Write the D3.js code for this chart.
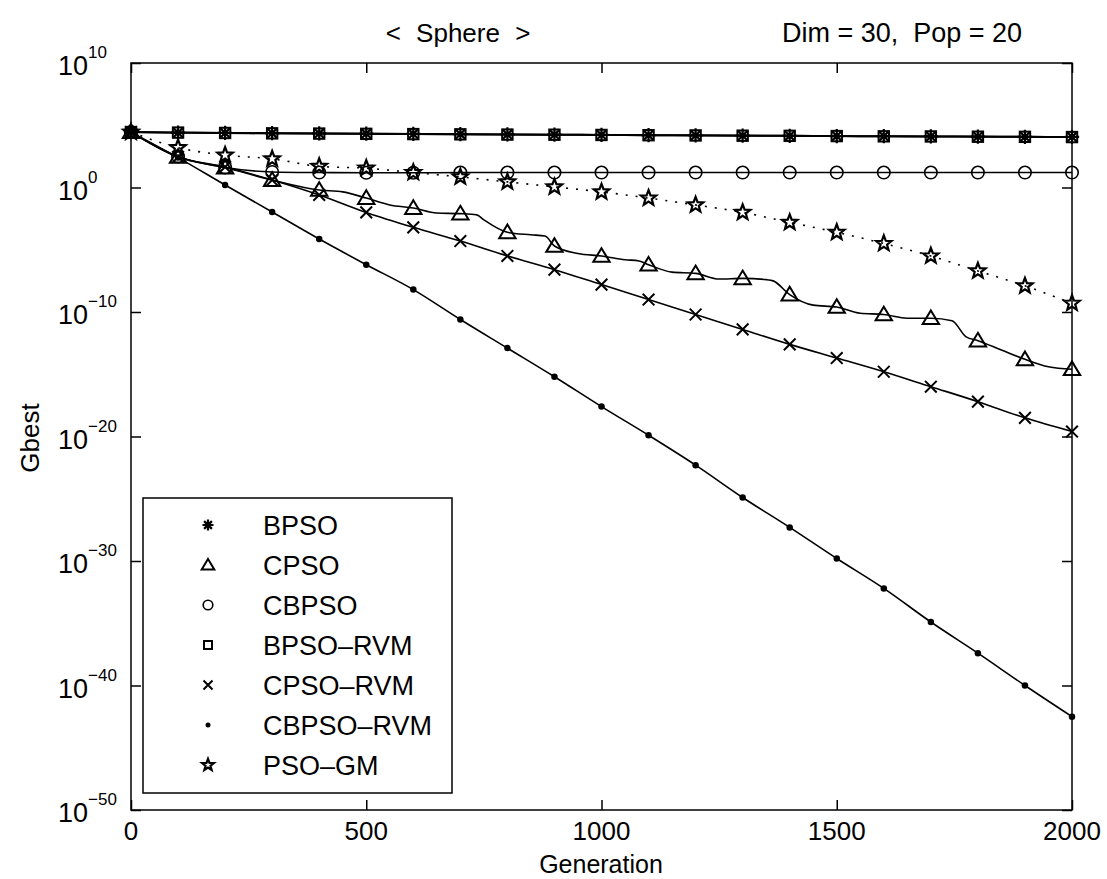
<!DOCTYPE html>
<html>
<head>
<meta charset="utf-8">
<script src="https://cdn.jsdelivr.net/npm/d3@7"></script>
<style>
  body { margin: 0; background: #fff; }
  text { font-family: "Liberation Sans", Arial, sans-serif; fill: #000; }
</style>
</head>
<body>
<svg id="chart" width="1107" height="879"></svg>
<script>
// generations where markers are drawn
var generations = [0,100,200,300,400,500,600,700,800,900,1000,1100,1200,1300,1400,1500,1600,1700,1800,1900,2000];

// log10(Gbest), one value per generation above
var bpso     = [4.45,4.40,4.38,4.36,4.34,4.32,4.30,4.28,4.26,4.24,4.22,4.20,4.19,4.17,4.15,4.13,4.12,4.10,4.09,4.07,4.06];
var cpso     = [4.45,2.45,1.6,0.6,-0.2,-0.85,-1.65,-2.1,-3.6,-4.7,-5.5,-6.2,-6.9,-7.3,-8.6,-9.6,-10.2,-10.5,-12.3,-13.8,-14.6];
var cbpso    = [4.45,2.5,1.6,1.25,1.2,1.18,1.18,1.2,1.2,1.2,1.2,1.2,1.2,1.2,1.2,1.2,1.2,1.2,1.2,1.2,1.2];
var bpsoRvm  = [4.45,4.41,4.38,4.35,4.33,4.31,4.29,4.27,4.25,4.24,4.22,4.20,4.18,4.16,4.15,4.13,4.11,4.10,4.08,4.07,4.05];
var cpsoRvm  = [4.45,2.45,1.65,0.6,-0.6,-2.0,-3.2,-4.3,-5.5,-6.6,-7.8,-9.0,-10.2,-11.4,-12.6,-13.7,-14.8,-16.0,-17.2,-18.5,-19.6];
var cbpsoRvm = [4.45,2.4,0.2,-1.97,-4.14,-6.2,-8.2,-10.6,-12.9,-15.2,-17.6,-19.9,-22.3,-24.9,-27.3,-29.8,-32.2,-34.9,-37.4,-40.0,-42.5];
var psoGm    = [4.45,3.2,2.6,2.3,1.7,1.55,1.2,0.85,0.45,0.05,-0.35,-0.85,-1.4,-2.0,-2.8,-3.6,-4.5,-5.5,-6.7,-7.9,-9.3];

// the CPSO curve is drawn from finer points (it has steps between markers)
var cpsoLineGen = [0,100,200,300,400,450,500,550,600,650,700,735,750,800,850,880,900,950,1000,1050,1080,1100,1150,1200,1250,1300,1350,1365,1400,1450,1500,1550,1600,1650,1700,1745,1775,1800,1850,1900,1950,2000];
var cpsoLineVal = [4.45,2.45,1.6,0.6,-0.2,-0.35,-0.85,-1.4,-1.65,-2.05,-2.1,-2.2,-2.6,-3.6,-3.8,-3.9,-4.7,-5.3,-5.5,-5.8,-5.9,-6.2,-6.8,-6.9,-7.35,-7.3,-7.4,-7.5,-8.6,-9.45,-9.6,-10.1,-10.2,-10.5,-10.5,-10.7,-12.0,-12.3,-13.05,-13.8,-14.4,-14.6];

var seriesNames = ["BPSO","CPSO","CBPSO","BPSO\u2013RVM","CPSO\u2013RVM","CBPSO\u2013RVM","PSO\u2013GM"];
var seriesMarks = ["asterisk","triangle","circle","square","cross","dot","star"];
var seriesVals  = [bpso, cpso, cbpso, bpsoRvm, cpsoRvm, cbpsoRvm, psoGm];

var yTickExp = [10,0,-10,-20,-30,-40,-50];
var xTicks = [0,500,1000,1500,2000];

var svg = d3.select("svg#chart");

var x = d3.scaleLinear().domain([0,2000]).range([131,1072]);
var y = d3.scaleLog().domain([1e-50,1e10]).range([810,63]);

function py(v) { return y(Math.pow(10, v)); }

// axes with inward ticks on all four sides
var yTickVals = yTickExp.map(function(e){ return Math.pow(10,e); });
svg.append("g").attr("transform","translate(131,0)")
   .call(d3.axisLeft(y).tickValues(yTickVals).tickSize(-10).tickSizeOuter(0).tickFormat(""));
svg.append("g").attr("transform","translate(1072,0)")
   .call(d3.axisRight(y).tickValues(yTickVals).tickSize(-10).tickSizeOuter(0).tickFormat(""));
svg.append("g").attr("transform","translate(0,810)")
   .call(d3.axisBottom(x).tickValues(xTicks).tickSize(-10).tickSizeOuter(0).tickFormat(""));
svg.append("g").attr("transform","translate(0,63)")
   .call(d3.axisTop(x).tickValues(xTicks).tickSize(-10).tickSizeOuter(0).tickFormat(""));
svg.selectAll(".tick line").attr("stroke","#000").attr("stroke-width",1.5);
svg.selectAll(".domain").remove();

svg.append("rect")
   .attr("x",131).attr("y",63).attr("width",1072-131).attr("height",810-63)
   .attr("fill","none").attr("stroke","#000").attr("stroke-width",1.5);

// y tick labels: 10 with superscript exponent
yTickExp.forEach(function(e) {
  var t = svg.append("text")
     .attr("x",58).attr("y",py(e)+12)
     .style("font-size","27px");
  t.append("tspan").text("10");
  t.append("tspan").attr("dy",-17).style("font-size","17px")
   .text(e < 0 ? "\u2212" + (-e) : String(e));
});

// x tick labels
svg.selectAll("text.xlab").data(xTicks).enter().append("text")
   .attr("class","xlab")
   .attr("x", function(d){ return x(d); })
   .attr("y", 840)
   .attr("text-anchor","middle")
   .style("font-size","26px")
   .text(function(d){ return d; });

svg.append("text").attr("x",601).attr("y",873).attr("text-anchor","middle")
   .style("font-size","25px").text("Generation");
svg.append("text").attr("transform","translate(39,438) rotate(-90)").attr("text-anchor","middle")
   .style("font-size","26px").text("Gbest");
svg.append("text").attr("x",458).attr("y",42).attr("text-anchor","middle")
   .style("font-size","26px").style("word-spacing","8px").text("< Sphere >");
svg.append("text").attr("x",782).attr("y",42).attr("xml:space","preserve")
   .style("font-size","27px").style("white-space","pre").text("Dim = 30,  Pop = 20");

// lines
var line = d3.line()
   .x(function(d){ return x(d[0]); })
   .y(function(d){ return py(d[1]); })
   .curve(d3.curveMonotoneX);

var plot = svg.append("g");

seriesVals.forEach(function(vals, i) {
  var pts;
  if (i === 1) pts = cpsoLineGen.map(function(g,j){ return [g, cpsoLineVal[j]]; });
  else pts = generations.map(function(g,j){ return [g, vals[j]]; });
  plot.append("path")
     .datum(pts)
     .attr("d", line)
     .attr("fill","none")
     .attr("stroke","#000")
     .attr("stroke-width", (i === 0 || i === 3) ? 2 : 1.6)
     .attr("stroke-dasharray", seriesMarks[i] === "star" ? "2,8" : null);
});

// marker drawing
function starPath(r) {
  var p = [];
  for (var k = 0; k < 10; k++) {
    var a = -Math.PI/2 + k*Math.PI/5;
    var rr = (k % 2 === 0) ? r : r*0.42;
    p.push([rr*Math.cos(a), rr*Math.sin(a)]);
  }
  return "M" + p.map(function(q){ return q[0].toFixed(2)+","+q[1].toFixed(2); }).join("L") + "Z";
}

function drawMarker(g, kind, cx, cy, s) {
  var m = g.append("g").attr("transform","translate(" + cx + "," + cy + ")");
  var sw = 1.6;
  if (kind === "asterisk") {
    var a = s*0.55, b = s*0.39;
    m.append("path").attr("d","M"+(-a)+",0L"+a+",0M0,"+(-a)+"L0,"+a+"M"+(-b)+","+(-b)+"L"+b+","+b+"M"+(-b)+","+b+"L"+b+","+(-b))
     .attr("stroke","#000").attr("stroke-width",sw+0.6);
  } else if (kind === "triangle") {
    var h = s*0.6;
    m.append("path").attr("d","M0,"+(-h)+"L"+(h*1.05)+","+(h*0.75)+"L"+(-h*1.05)+","+(h*0.75)+"Z")
     .attr("fill","none").attr("stroke","#000").attr("stroke-width",sw+0.4);
  } else if (kind === "circle") {
    m.append("circle").attr("r",s*0.48).attr("fill","none").attr("stroke","#000").attr("stroke-width",sw);
  } else if (kind === "square") {
    var q = s*0.4;
    m.append("rect").attr("x",-q).attr("y",-q).attr("width",2*q).attr("height",2*q)
     .attr("fill","none").attr("stroke","#000").attr("stroke-width",sw+0.4);
  } else if (kind === "cross") {
    var c = s*0.45;
    m.append("path").attr("d","M"+(-c)+","+(-c)+"L"+c+","+c+"M"+(-c)+","+c+"L"+c+","+(-c))
     .attr("stroke","#000").attr("stroke-width",sw+0.4);
  } else if (kind === "dot") {
    m.append("circle").attr("r",s*0.25).attr("fill","#000");
  } else if (kind === "star") {
    m.append("path").attr("d",starPath(s*0.62)).attr("fill","none").attr("stroke","#000").attr("stroke-width",sw+0.6);
  }
}

seriesVals.forEach(function(vals, i) {
  generations.forEach(function(g, j) {
    drawMarker(plot, seriesMarks[i], x(g), py(vals[j]), 13);
  });
});

// legend
var legend = svg.append("g");
legend.append("rect")
   .attr("x",143).attr("y",498).attr("width",309).attr("height",295)
   .attr("fill","#fff").attr("stroke","#000").attr("stroke-width",1.5);
seriesNames.forEach(function(name, i) {
  var cy = 525 + i*40;
  drawMarker(legend, seriesMarks[i], 208, cy, 10);
  legend.append("text").attr("x",263).attr("y",cy+10)
     .style("font-size","27px").text(name);
});
</script>
</body>
</html>
